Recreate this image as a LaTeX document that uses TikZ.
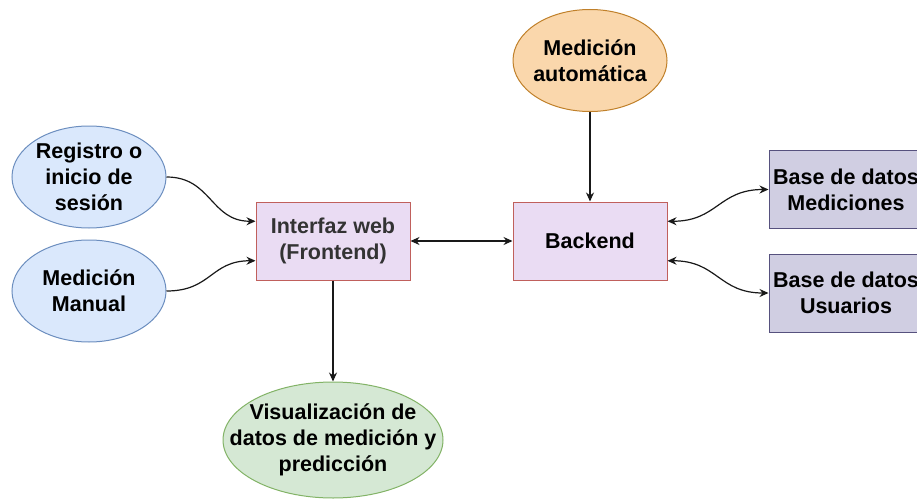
\documentclass[tikz,border=0pt]{standalone}
\usepackage{fontspec}
\setmainfont{Liberation Sans}
\usetikzlibrary{arrows.meta,calc,shapes.geometric}
\definecolor{bluefill}{HTML}{DAE8FC}
\definecolor{bluedraw}{HTML}{6C8EBF}
\definecolor{pinkfill}{HTML}{EADCF3}
\definecolor{pinkdraw}{HTML}{C0605C}
\definecolor{dbfill}{HTML}{D0CEE2}
\definecolor{dbdraw}{HTML}{56517E}
\definecolor{orfill}{HTML}{FAD7AC}
\definecolor{ordraw}{HTML}{C0802A}
\definecolor{grfill}{HTML}{D5E8D4}
\definecolor{grdraw}{HTML}{82B366}
\definecolor{txtgray}{HTML}{333333}
\begin{document}
\begin{tikzpicture}[x=1pt,y=-1pt,
  every node/.style={font=\fontsize{21.5}{26}\selectfont\bfseries, align=center, inner sep=0pt, line width=1pt},
  ell/.style={ellipse, inner sep=-8pt, minimum width=154pt, minimum height=102pt},
  boxnode/.style={rectangle, minimum width=154pt, minimum height=78pt},
  conn/.style={line width=1.2pt, draw=black!90},
  tip/.style={-{Stealth[length=9pt,width=8pt]}},
  dtip/.style={{Stealth[length=9pt,width=8pt]}-{Stealth[length=9pt,width=8pt]}}
]
\useasboundingbox (0,0) rectangle (917,500);
\begin{scope}
\clip (0,0) rectangle (917,500);
\node[ell, fill=bluefill, draw=bluedraw] (reg) at (89,177) {Registro o\\inicio de\\sesión};
\node[ell, fill=bluefill, draw=bluedraw] (man) at (89,291) {Medición\\Manual};
\node[ell, fill=orfill, draw=ordraw] (auto) at (590,60.5) {Medición\\automática};
\node[boxnode, fill=pinkfill, draw=pinkdraw, text=txtgray] (iw) at (333,241) {Interfaz web\\(Frontend)};
\node[boxnode, fill=pinkfill, draw=pinkdraw] (be) at (590,241) {Backend};
\node[boxnode, fill=dbfill, draw=dbdraw] (dbm) at (846,189.5) {Base de datos\\Mediciones};
\node[boxnode, fill=dbfill, draw=dbdraw] (dbu) at (846,293) {Base de datos\\Usuarios};
\node[ellipse, inner xsep=-32pt, inner ysep=-12pt, minimum width=220pt, minimum height=116pt, fill=grfill, draw=grdraw] (vis) at (333,440) {Visualización de\\datos de medición y\\predicción};

\coordinate (iwA) at ($(iw.north west)!0.25!(iw.south west)$);
\coordinate (iwB) at ($(iw.north west)!0.75!(iw.south west)$);
\coordinate (beA) at ($(be.north east)!0.25!(be.south east)$);
\coordinate (beB) at ($(be.north east)!0.75!(be.south east)$);

\draw[conn,tip] (reg.east) .. controls +(45,0) and +(-45,0) .. (iwA);
\draw[conn,tip] (man.east) .. controls +(45,0) and +(-45,0) .. (iwB);
\draw[conn,dtip] (iw.east) -- (be.west);
\draw[conn,tip] (auto.south) -- (be.north);
\draw[conn,dtip] (beA) .. controls +(50,0) and +(-50,0) .. (dbm.west);
\draw[conn,dtip] (beB) .. controls +(50,0) and +(-50,0) .. (dbu.west);
\draw[conn,tip] (iw.south) -- (vis.north);
\end{scope}
\end{tikzpicture}
\end{document}
